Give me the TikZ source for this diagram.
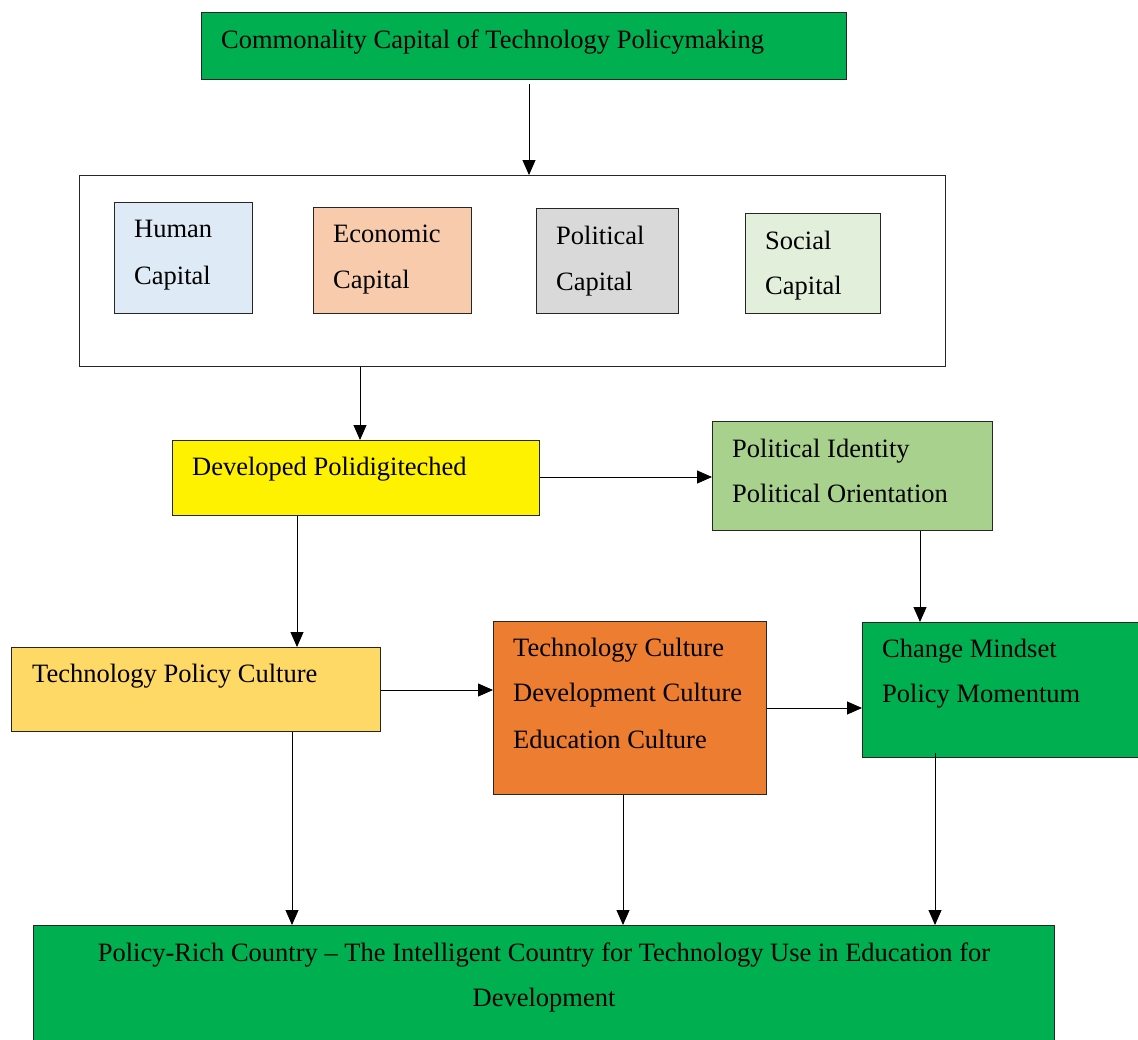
\documentclass[tikz,border=0pt]{standalone}
\usepackage{fontspec}
\setmainfont{Liberation Serif}
\usetikzlibrary{arrows.meta}
\definecolor{dgreen}{HTML}{00B050}
\definecolor{hblue}{HTML}{DEEAF6}
\definecolor{epeach}{HTML}{F8CBAD}
\definecolor{pgrey}{HTML}{D9D9D9}
\definecolor{sgreen}{HTML}{E2EFDA}
\definecolor{lgreen}{HTML}{A9D18E}
\definecolor{gold}{HTML}{FFD966}
\definecolor{dorange}{HTML}{ED7D31}
\begin{document}
\begin{tikzpicture}[x=1pt,y=-1pt,
  box/.style={draw=black!85,line width=1.1pt,rectangle,inner sep=0pt,anchor=north west},
  lbl/.style={anchor=base west,inner sep=0pt,font=\fontsize{26.5}{30}\selectfont},
  clbl/.style={anchor=base,inner sep=0pt,font=\fontsize{26.5}{30}\selectfont},
  conn/.style={draw=black,line width=0.9pt,-{Triangle[width=13pt,length=15pt]}}]
\useasboundingbox (0,0) rectangle (1138,1039);
\clip (0,0) rectangle (1138,1039);
% boxes
\node[box,fill=dgreen,minimum width=645pt,minimum height=67pt] (top) at (201,12) {};
\node[box,fill=white,minimum width=866pt,minimum height=191pt] (caps) at (79,175) {};
\node[box,fill=hblue,minimum width=138pt,minimum height=111pt] (human) at (114,202) {};
\node[box,fill=epeach,minimum width=158pt,minimum height=106pt] (econ) at (313,207) {};
\node[box,fill=pgrey,minimum width=142pt,minimum height=105pt] (polc) at (536,208) {};
\node[box,fill=sgreen,minimum width=135pt,minimum height=100pt] (soc) at (745,213) {};
\node[box,fill=yellow,minimum width=367pt,minimum height=75pt] (dev) at (172,440) {};
\node[box,fill=lgreen,minimum width=280pt,minimum height=109pt] (pid) at (712,421) {};
\node[box,fill=gold,minimum width=369pt,minimum height=84pt] (tpc) at (11,647) {};
\node[box,fill=dorange,minimum width=273pt,minimum height=173pt] (cult) at (493,621) {};
\node[box,fill=dgreen,minimum width=290pt,minimum height=135pt] (mind) at (862,622) {};
\node[box,fill=dgreen,minimum width=1021pt,minimum height=130pt] (rich) at (33,925) {};
% labels
\node[lbl] (topT) at (221,48) {Commonality Capital of Technology Policymaking};
\node[lbl] (humanA) at (134,237) {Human};
\node[lbl] (humanB) at (134,284) {Capital};
\node[lbl] (econA) at (333,242) {Economic};
\node[lbl] (econB) at (333,288) {Capital};
\node[lbl] (polcA) at (556,244) {Political};
\node[lbl] (polcB) at (556,290) {Capital};
\node[lbl] (socA) at (765,249) {Social};
\node[lbl] (socB) at (765,294) {Capital};
\node[lbl] (devT) at (192,475) {Developed Polidigiteched};
\node[lbl] (pidA) at (732,457) {Political Identity};
\node[lbl] (pidB) at (732,502) {Political Orientation};
\node[lbl] (tpcT) at (32,682) {Technology Policy Culture};
\node[lbl] (cultA) at (513,656) {Technology Culture};
\node[lbl] (cultB) at (513,701) {Development Culture};
\node[lbl] (cultC) at (513,748) {Education Culture};
\node[lbl] (mindA) at (882,657) {Change Mindset};
\node[lbl] (mindB) at (882,702) {Policy Momentum};
\node[clbl] (richA) at (544,961) {Policy-Rich Country -- The Intelligent Country for Technology Use in Education for};
\node[clbl] (richB) at (544,1006) {Development};
% connectors
\draw[conn] (top.south -| 529,0) ++(0,4) -- (529,175 |- caps.north);
\draw[conn] (caps.south -| 360,0) -- (dev.north -| 360,0);
\draw[conn] (dev.east |- 0,477) -- (pid.west |- 0,477);
\draw[conn] (pid.south -| 920,0) -- (mind.north -| 920,0);
\draw[conn] (dev.south -| 297,0) -- (tpc.north -| 297,0);
\draw[conn] (tpc.east |- 0,690) -- (cult.west |- 0,690);
\draw[conn] (cult.east |- 0,708) -- (mind.west |- 0,708);
\draw[conn] (tpc.south -| 292,0) -- (rich.north -| 292,0);
\draw[conn] (cult.south -| 623,0) -- (rich.north -| 623,0);
\draw[conn] (mind.south -| 935,0) ++(0,-5) -- (rich.north -| 935,0);
\end{tikzpicture}
\end{document}
